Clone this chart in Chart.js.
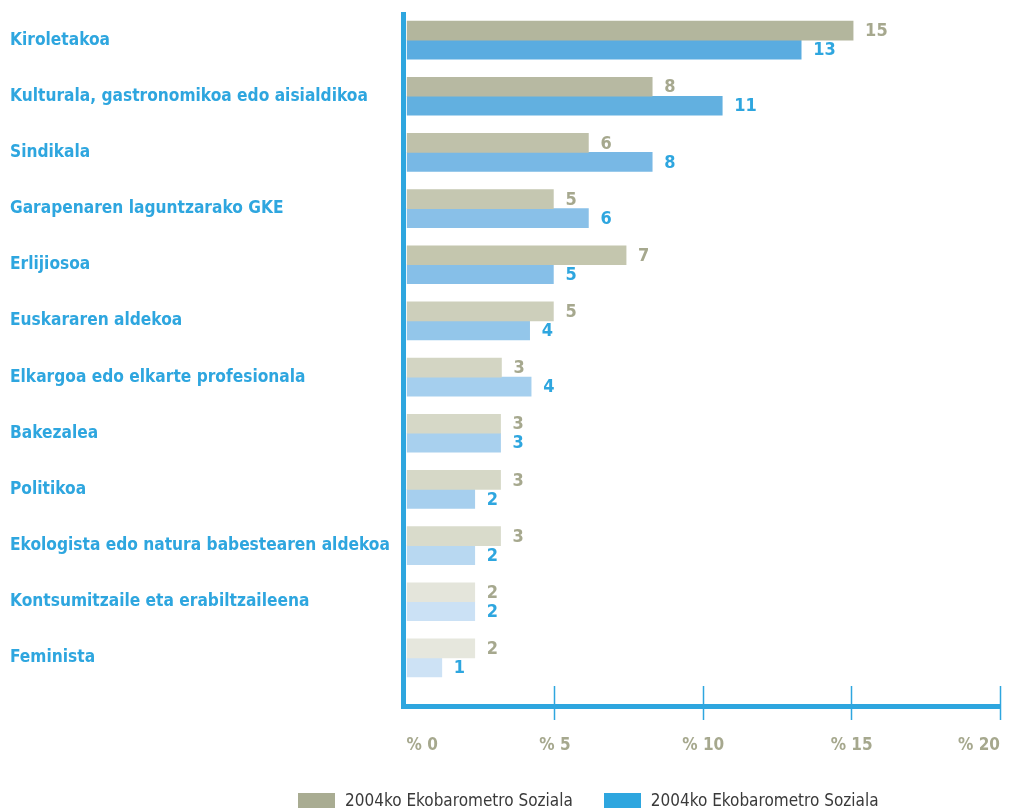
<!DOCTYPE html>
<html lang="eu">
<head>
<meta charset="UTF-8">
<title>Elkarteetako partaidetza</title>
<script src="https://cdn.jsdelivr.net/npm/chart.js"></script>
<style>
  body { margin: 0; background: #fff; }
  #wrap { position: relative; width: 1015px; height: 812px; }
  #legend { position: absolute; left: 298px; top: 790px; display: flex; align-items: center;
            font-family: 'Liberation Sans Narrow', 'DejaVu Sans Condensed', sans-serif; font-size: 17px; color: #3a3a3a; }
  #legend .item { display: flex; align-items: center; margin-right: 31px; }
  #legend .box { width: 37px; height: 15px; margin-right: 10px; }
</style>
</head>
<body>
<div id="wrap">
  <canvas id="chart" width="1015" height="812"></canvas>
  <div id="legend"></div>
</div>
<script>
const categories = [
  'Kiroletakoa',
  'Kulturala, gastronomikoa edo aisialdikoa',
  'Sindikala',
  'Garapenaren laguntzarako GKE',
  'Erlijiosoa',
  'Euskararen aldekoa',
  'Elkargoa edo elkarte profesionala',
  'Bakezalea',
  'Politikoa',
  'Ekologista edo natura babestearen aldekoa',
  'Kontsumitzaile eta erabiltzaileena',
  'Feminista'
];
const seriesNames = ['2004ko Ekobarometro Soziala', '2004ko Ekobarometro Soziala'];
const grayValues = [15.05, 8.28, 6.13, 4.95, 7.4, 4.95, 3.2, 3.17, 3.17, 3.17, 2.3, 2.3];
const blueValues = [13.3, 10.64, 8.28, 6.13, 4.95, 4.15, 4.2, 3.17, 2.3, 2.3, 2.3, 1.19];
const grayShown = [15, 8, 6, 5, 7, 5, 3, 3, 3, 3, 2, 2];
const blueShown = [13, 11, 8, 6, 5, 4, 4, 3, 2, 2, 2, 1];
const xMin = 0, xMax = 20, xStep = 5;

const grayColors = ['#b3b69d', '#b7b9a2', '#bfc1aa', '#c5c7b1', '#c4c6ae', '#cdcfbb',
                    '#d3d5c3', '#d6d8c7', '#d6d8c7', '#d9dbcb', '#e4e5db', '#e6e7dd'];
const blueColors = ['#5aace0', '#62b0e0', '#78b8e5', '#89c0e8', '#86bfe8', '#93c6ea',
                    '#a5cfee', '#a8d0ee', '#a6cfee', '#b8d8f1', '#cbe1f5', '#cde2f5'];
const legendColors = ['#a9ac92', '#2ea6df'];

const FONT = "'Liberation Sans Narrow', 'DejaVu Sans Condensed', sans-serif";
const BLUE = '#2ea6df';
const GRAY_TEXT = '#a6a88e';
const AXIS_Y = 706.5;

Chart.defaults.font.family = FONT;

// numbers at the end of the bars
const valueLabels = {
  id: 'valueLabels',
  afterDatasetsDraw(chart) {
    const ctx = chart.ctx;
    ctx.save();
    ctx.font = 'bold 18px ' + FONT;
    ctx.textBaseline = 'middle';
    ctx.textAlign = 'left';
    chart.data.datasets.forEach((ds, i) => {
      const meta = chart.getDatasetMeta(i);
      ctx.fillStyle = ds.labelColor;
      meta.data.forEach((bar, j) => {
        ctx.fillText(ds.shown[j], bar.x + 12, bar.y + 1);
      });
    });
    ctx.restore();
  }
};

// thick blue axis lines, the x one sits a bit below the last row
const axisLines = {
  id: 'axisLines',
  afterDatasetsDraw(chart) {
    const ctx = chart.ctx;
    const area = chart.chartArea;
    const x = chart.scales.x;
    ctx.save();
    ctx.fillStyle = BLUE;
    ctx.fillRect(area.left - 5.5, area.top, 5, AXIS_Y + 2.5 - area.top);
    ctx.fillRect(area.left - 5.5, AXIS_Y - 2.5, x.getPixelForValue(xMax) + 0.5 - area.left + 5.5, 5);
    ctx.restore();
  }
};

const htmlLegend = {
  id: 'htmlLegend',
  afterUpdate(chart) {
    const box = document.getElementById('legend');
    box.innerHTML = '';
    chart.data.datasets.forEach((ds, i) => {
      const item = document.createElement('div');
      item.className = 'item';
      const sw = document.createElement('span');
      sw.className = 'box';
      sw.style.background = legendColors[i];
      const txt = document.createElement('span');
      txt.textContent = ds.label;
      item.appendChild(sw);
      item.appendChild(txt);
      box.appendChild(item);
    });
  }
};

new Chart(document.getElementById('chart'), {
  type: 'bar',
  data: {
    labels: categories,
    datasets: [
      { label: seriesNames[0], data: grayValues, backgroundColor: grayColors, shown: grayShown, labelColor: GRAY_TEXT },
      { label: seriesNames[1], data: blueValues, backgroundColor: blueColors, shown: blueShown, labelColor: BLUE }
    ]
  },
  options: {
    indexAxis: 'y',
    responsive: false,
    animation: false,
    barThickness: 19,
    layout: { padding: { left: 10, right: 15, top: 12, bottom: 0 } },
    plugins: {
      legend: { display: false },
      tooltip: { enabled: false }
    },
    scales: {
      x: {
        min: xMin,
        max: xMax,
        border: { display: false },
        grid: {
          drawOnChartArea: false,
          tickLength: 34,
          tickWidth: 1.5,
          tickColor: c => (c.tick && c.tick.value === xMin ? 'rgba(0,0,0,0)' : BLUE)
        },
        ticks: {
          stepSize: xStep,
          padding: 15,
          align: 'inner',
          color: GRAY_TEXT,
          font: { size: 17, weight: 'bold' },
          callback: v => '% ' + v
        },
        afterFit(scale) {
          scale.height = 126;
          scale.paddingRight = 0;
        }
      },
      y: {
        border: { display: false },
        grid: { display: false, drawTicks: false },
        ticks: {
          crossAlign: 'far',
          padding: 0,
          color: BLUE,
          font: { size: 17.2, weight: 'bold' }
        },
        afterFit(scale) {
          scale.width = 396.5;
          scale.paddingTop = 0;
          scale.paddingBottom = 0;
        }
      }
    }
  },
  plugins: [valueLabels, axisLines, htmlLegend]
});
</script>
</body>
</html>
